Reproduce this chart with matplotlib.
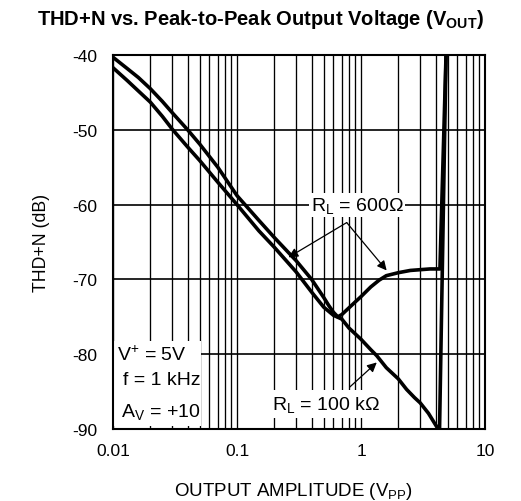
import matplotlib
matplotlib.use("Agg")
import matplotlib.pyplot as plt
from matplotlib.patches import Rectangle
from matplotlib.ticker import FixedLocator, FixedFormatter, NullFormatter

plt.rcParams['font.family'] = ['Liberation Sans', 'DejaVu Sans']
plt.rcParams['mathtext.fontset'] = 'custom'
plt.rcParams['mathtext.rm'] = 'Liberation Sans'
plt.rcParams['mathtext.it'] = 'Liberation Sans:italic'
plt.rcParams['mathtext.bf'] = 'Liberation Sans:bold'
plt.rcParams['axes.unicode_minus'] = False

# THD+N curves, output amplitude in Vpp vs dB
vout_600 = [0.01, 0.013, 0.016, 0.02, 0.025, 0.03, 0.04, 0.05, 0.07, 0.1,
            0.15, 0.2, 0.3, 0.4, 0.5, 0.55, 0.6, 0.65, 0.7, 0.8, 0.9, 1.0,
            1.2, 1.4, 1.6, 2.0, 2.5, 3.0, 3.6, 4.33, 4.85]
thd_600 = [-40.3, -41.8, -43.0, -44.5, -46.2, -47.7, -50.0, -51.9, -55.0,
           -58.8, -62.1, -64.4, -67.5, -70.0, -72.4, -73.5, -74.4, -75.0,
           -74.7, -73.8, -73.0, -72.3, -71.0, -70.1, -69.5, -69.1, -68.8,
           -68.7, -68.6, -68.6, -40.0]

vout_100k = [0.01, 0.013, 0.016, 0.02, 0.025, 0.03, 0.04, 0.05, 0.07, 0.1,
             0.15, 0.2, 0.3, 0.4, 0.5, 0.6, 0.7, 0.8, 1.0, 1.2, 1.34, 1.6,
             2.0, 2.33, 2.7, 3.0, 3.5, 4.08, 4.3, 4.85]
thd_100k = [-41.7, -43.4, -44.8, -46.3, -48.2, -49.9, -52.3, -54.1, -57.0,
            -60.0, -63.5, -65.7, -69.0, -71.7, -73.7, -74.8, -75.3, -76.5,
            -78.0, -79.4, -80.2, -81.8, -83.3, -84.7, -85.8, -86.5, -87.9,
            -89.7, -90.0, -40.0]

x_ticks = [0.01, 0.1, 1, 10]
x_ticklabels = ['0.01', '0.1', '1', '10']
y_ticks = [-90, -80, -70, -60, -50, -40]

fig = plt.figure(figsize=(5.21, 5.02), dpi=100)
ax = fig.add_axes([0.2169, 0.1434, 0.714, 0.745])

ax.set_xscale('log')
ax.set_xlim(0.01, 10)
ax.set_ylim(-90, -40)

ax.xaxis.set_major_locator(FixedLocator(x_ticks))
ax.xaxis.set_major_formatter(FixedFormatter(x_ticklabels))
minor = [m * d for d in (0.01, 0.1, 1) for m in range(2, 10)]
ax.xaxis.set_minor_locator(FixedLocator(minor))
ax.xaxis.set_minor_formatter(NullFormatter())
ax.set_yticks(y_ticks)

ax.set_axisbelow(True)
ax.grid(True, which='both', axis='x', color='black', lw=0.95)
ax.grid(True, which='major', axis='y', color='black', lw=1.2)
ax.tick_params(which='both', length=0, labelsize=12.5)
ax.tick_params(axis='x', pad=10)
ax.tick_params(axis='y', pad=11)
for s in ax.spines.values():
    s.set_linewidth(1.5)

ax.plot(vout_600, thd_600, color='black', lw=2.6, zorder=3)
ax.plot(vout_100k, thd_100k, color='black', lw=2.6, zorder=3)

# blank out grid behind the conditions block
ax.add_patch(Rectangle((0.01, -89.6), 0.041, 11.4, facecolor='white',
                       edgecolor='none', zorder=1))
ytr = ax.get_yaxis_transform()
ax.text(0.010, -80.0, 'V$^{+}$ = 5V', transform=ytr,
        fontsize=14, va='center', ha='left', zorder=4)
ax.text(0.026, -83.4, 'f = 1 kHz', transform=ytr,
        fontsize=14, va='center', ha='left', zorder=4)
ax.text(0.022, -87.6, 'A$_{\\mathrm{V}}$ = +10', transform=ytr,
        fontsize=14, va='center', ha='left', zorder=4)

# load labels with arrows
arrow = dict(arrowstyle='-|>', color='black', lw=0.9, mutation_scale=14,
             shrinkA=0, shrinkB=0)
ax.text(0.93, -60.0, 'R$_{\\mathrm{L}}$ = 600Ω', fontsize=14,
        ha='center', va='center', zorder=4,
        bbox=dict(boxstyle='square,pad=0.1', fc='white', ec='none'))
ax.annotate('', xy=(0.26, -67.05), xytext=(0.767, -62.4),
            arrowprops=arrow, zorder=4)
ax.annotate('', xy=(1.61, -68.8), xytext=(0.767, -62.4),
            arrowprops=arrow, zorder=4)

ax.text(0.52, -86.7, 'R$_{\\mathrm{L}}$ = 100 kΩ', fontsize=14,
        ha='center', va='center', zorder=4,
        bbox=dict(boxstyle='square,pad=0.2', fc='white', ec='none'))
ax.annotate('', xy=(1.34, -81.1), xytext=(0.81, -84.4),
            arrowprops=arrow, zorder=4)

ax.set_xlabel('OUTPUT AMPLITUDE (V$_{\\mathrm{PP}}$)', fontsize=13.5)
ax.xaxis.set_label_coords(0.485, -0.135)
ax.xaxis.label.set_va('top')
ax.set_ylabel('THD+N (dB)', fontsize=12.7)
ax.yaxis.set_label_coords(-0.17, 0.5)

fig.text(0.5, 0.951, 'THD+N vs. Peak-to-Peak Output Voltage (V$_{\\mathbf{OUT}}$)',
         fontsize=14.5, fontweight='bold', ha='center', va='baseline')

fig.savefig('out.png', dpi=100)
